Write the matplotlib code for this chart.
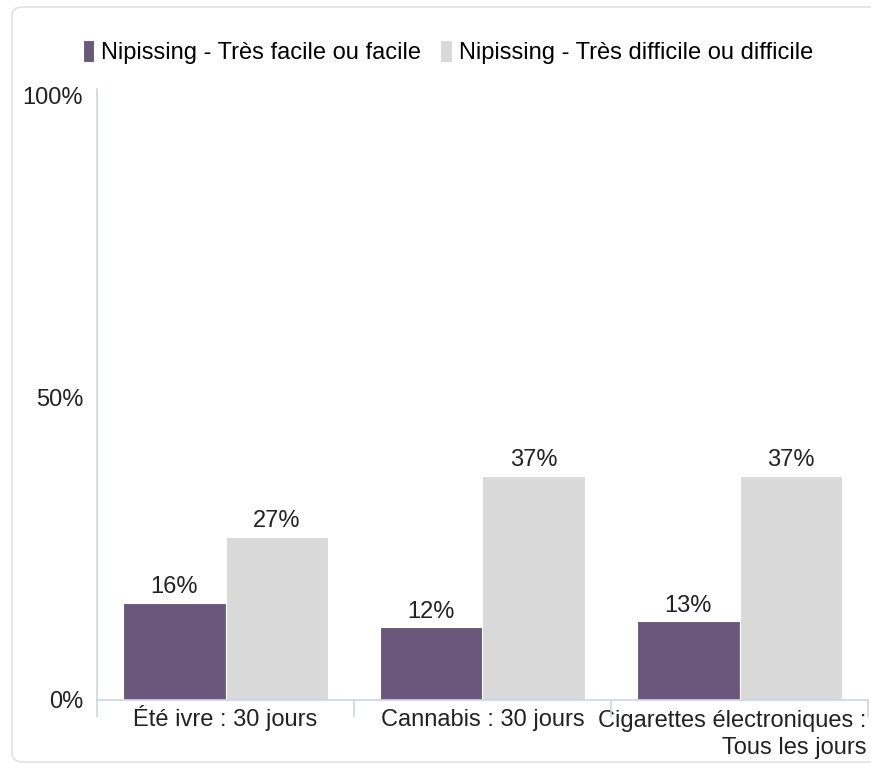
import numpy as np
import matplotlib.pyplot as plt
from matplotlib.patches import FancyBboxPatch
from matplotlib.transforms import ScaledTranslation

# data
categories = ['Été ivre : 30 jours', 'Cannabis : 30 jours',
              'Cigarettes électroniques :\nTous les jours']
series_names = ['Nipissing - Très facile ou facile',
                'Nipissing - Très difficile ou difficile']
facile = [16, 12, 13]
difficile = [27, 37, 37]
yticks = [0, 50, 100]
ytick_labels = ['0%', '50%', '100%']

purple = '#69577c'
grey = '#d9d9d9'
axis_col = '#c9d6e6'
fs = 17

plt.rcParams['font.family'] = ['Liberation Sans', 'DejaVu Sans']

fig = plt.figure(figsize=(8.71, 7.64), dpi=100)

# rounded frame around the chart
frame = FancyBboxPatch((12 / 871, 2 / 764), 900 / 871, 755 / 764,
                       boxstyle='round,pad=0,rounding_size=0.012',
                       transform=fig.transFigure, fill=False,
                       edgecolor='#e2e2e2', linewidth=1.2, clip_on=False)
fig.patches.append(frame)

ax = fig.add_axes([97 / 871, 1 - 700 / 764, 771 / 871, (700 - 95) / 764])

x = np.arange(len(categories))
w = 0.4
b1 = ax.bar(x - w / 2, facile, w, color=purple, edgecolor='white', linewidth=0.8,
            label=series_names[0])
b2 = ax.bar(x + w / 2, difficile, w, color=grey, edgecolor='white', linewidth=0.8,
            label=series_names[1])

for bars, vals in ((b1, facile), (b2, difficile)):
    for rect, v in zip(bars, vals):
        ax.text(rect.get_x() + rect.get_width() / 2, v + 0.8, f'{v}%',
                ha='center', va='bottom', fontsize=fs, color='#222222')

ax.set_xlim(-0.5, len(categories) - 0.5)
ax.set_ylim(0, 100)

ax.set_yticks(yticks)
ax.set_yticklabels(ytick_labels, fontsize=fs, color='#222222')
ax.tick_params(axis='y', length=0, pad=10)

ax.set_xticks(x)
ax.set_xticklabels(categories, fontsize=fs, color='#222222',
                   multialignment='right', va='baseline', linespacing=1.3)
ax.tick_params(axis='x', length=0, pad=19)
ax.set_xticks(np.arange(len(categories) + 1) - 0.5, minor=True)
ax.tick_params(axis='x', which='minor', length=12, color=axis_col, width=1.2)

# wrapped last label: moved left to stay in the frame, and down so its
# first line sits on the same baseline as the others
last = ax.get_xticklabels()[-1]
last.set_transform(last.get_transform() +
                   ScaledTranslation(-0.07, -0.28, fig.dpi_scale_trans))

for s in ('top', 'right'):
    ax.spines[s].set_visible(False)
for s in ('left', 'bottom'):
    ax.spines[s].set_color(axis_col)
    ax.spines[s].set_linewidth(1.2)
ax.spines['left'].set_bounds(0, 101)

fig.legend(handles=[b1, b2], labels=series_names, loc='center',
           bbox_to_anchor=(448 / 871, 1 - 52 / 764), ncol=2, frameon=False,
           fontsize=fs, handlelength=0.5, handleheight=1.1, handletextpad=0.3,
           columnspacing=0.8, borderaxespad=0)

fig.savefig('out.png', dpi=100)
